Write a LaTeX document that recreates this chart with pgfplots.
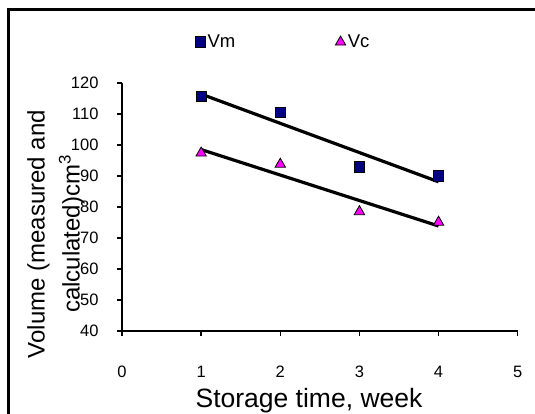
\documentclass[border=0pt]{standalone}
\usepackage{fontspec}
\setmainfont{Liberation Sans}
\usepackage{pgfplots}
\usepackage{pgfplotstable}
\pgfplotsset{compat=1.18}

% measured volume
\pgfplotstableread{
x y
1 115.6
2 110.5
3 93.0
4 90.0
}\vmtable
% calculated volume
\pgfplotstableread{
x y
1 97.4
2 93.8
3 78.5
4 75.1
}\vctable

\definecolor{vmblue}{RGB}{0,0,128}
\definecolor{vcpink}{RGB}{255,0,255}

\newcommand\ticksize{\fontsize{16.5pt}{19pt}\selectfont}
\newcommand\legsize{\fontsize{18.5pt}{22pt}\selectfont}

\begin{document}
\begin{tikzpicture}
\path[use as bounding box] (0,0) rectangle (535pt,-414pt);
\clip (0,0) rectangle (535pt,-414pt);
\draw[line width=3pt] (8pt,-9.5pt) rectangle (600pt,-500pt);
\begin{axis}[
  at={(122pt,-331pt)}, anchor=south west,
  scale only axis, width=395.7pt, height=248pt,
  xmin=0, xmax=5, ymin=40, ymax=120,
  xtick={0,...,5}, ytick={40,50,...,120},
  axis x line*=bottom, axis y line*=left,
  tick align=outside, major tick length=5pt,
  axis line style={line width=1.5pt},
  every tick/.style={black, line width=1.5pt},
  /pgf/number format/assume math mode=true,
  xticklabel style={font=\ticksize, anchor=base, yshift=-41pt},
  yticklabel style={font=\ticksize, anchor=east, xshift=-15pt},
  xticklabel={\ticksize\pgfmathprintnumber{\tick}},
  yticklabel={\ticksize\pgfmathprintnumber{\tick}},
  xlabel={Storage time, week},
  xlabel style={font=\fontsize{26.5pt}{30pt}\selectfont, at={(axis description cs:0.4726,0)}, anchor=base, yshift=-76pt},
  ylabel={Volume (measured and\\calculated)cm\textsuperscript{3}},
  ylabel style={font=\fontsize{24pt}{35pt}\selectfont, align=center, at={(axis description cs:-0.167,0.391)}, anchor=center},
  legend columns=2,
  legend style={draw=none, fill=none, at={(axis description cs:0.177,1.165)}, anchor=west,
    font=\legsize, nodes={font=\legsize},
    /tikz/every even column/.append style={column sep=98pt}},
  legend image code/.code={\draw[#1] plot coordinates {(0pt,0pt)};},
]
\addplot[only marks, mark=square*, mark size=5.2pt, mark options={fill=vmblue, draw=black, line width=0.8pt}]
  table[x=x, y=y] {\vmtable};
\addlegendentry{\legsize Vm}
\addplot[only marks, mark=triangle*, mark size=6pt, mark options={fill=vcpink, draw=black, line width=0.8pt}]
  table[x=x, y=y] {\vctable};
\addlegendentry{\legsize Vc}
% linear trend lines
\addplot[black, line width=3.2pt, forget plot] table[x=x, y={create col/linear regression={y=y}}] {\vmtable};
\addplot[black, line width=3.2pt, forget plot] table[x=x, y={create col/linear regression={y=y}}] {\vctable};
\end{axis}
\end{tikzpicture}
\end{document}
